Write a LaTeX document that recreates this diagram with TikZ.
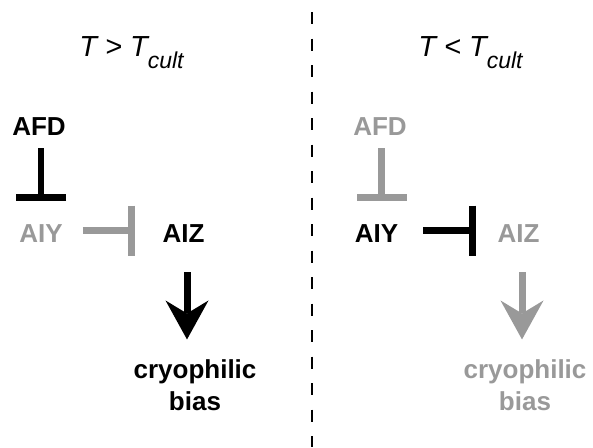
\documentclass[tikz,border=0pt]{standalone}
\usepackage{fontspec}
\setmainfont{Liberation Sans}
\usetikzlibrary{arrows.meta,calc}
\definecolor{dimgr}{RGB}{153,153,153}
\tikzset{
  lbl/.style={font=\fontsize{26}{30}\selectfont\bfseries, inner sep=0pt, anchor=base},
  ttl/.style={font=\fontsize{29}{34}\selectfont\itshape, inner sep=0pt, anchor=base},
  inhib/.style={line width=6.5pt, -{Bar[width=50pt]}},
  activ/.style={line width=7pt, -{Stealth[length=39pt,width=43pt,inset=13pt,line width=0pt]}},
  divider/.style={line width=1.6pt, dash pattern=on 12pt off 14.5pt, dash phase=14.5pt}
}
\newcommand{\subcult}{\raisebox{-12pt}{\fontsize{23}{27}\selectfont cult}}
\begin{document}
\begin{tikzpicture}[x=1pt,y=-1pt]
\useasboundingbox (0,0) rectangle (593,447);
% divider
\coordinate (dtop) at (312,0);
\coordinate (dbot) at (312,447);
\draw[divider] (dtop) -- (dbot);
% titles
\node[ttl] (titleL) at (131.5,56) {T > T\subcult};
\node[ttl] (titleR) at (470.5,56) {T < T\subcult};
% left panel
\node[lbl] (AFDL) at (39,135) {AFD};
\node[lbl,text=dimgr] (AIYL) at (41,242) {AIY};
\node[lbl] (AIZL) at (183.5,242) {AIZ};
\node[lbl] (cryoL) at (195,378) {cryophilic};
\node[lbl] (biasL) at (195,410) {bias};
\draw[inhib,shorten <=13pt,shorten >=23pt] (AIYL.north |- AFDL.south) -- (AIYL.north);
\draw[inhib,dimgr,shorten <=20pt,shorten >=27.5pt] ([yshift=2.5pt]AIYL.east) -- ([yshift=2.5pt]AIYL.east -| AIZL.west);
\draw[activ,shorten <=30pt,shorten >=19.5pt] ([xshift=3.5pt]AIZL.south) -- ([xshift=3.5pt]AIZL.south |- cryoL.north);
% right panel
\node[lbl,text=dimgr] (AFDR) at (380,135) {AFD};
\node[lbl] (AIYR) at (376.5,242) {AIY};
\node[lbl,text=dimgr] (AIZR) at (518.5,242) {AIZ};
\node[lbl,text=dimgr] (cryoR) at (525,378) {cryophilic};
\node[lbl,text=dimgr] (biasR) at (525,410) {bias};
\draw[inhib,dimgr,shorten <=13pt,shorten >=23pt] ([xshift=1.5pt]AFDR.south) -- ([xshift=1.5pt]AFDR.south |- AIYR.north);
\draw[inhib,shorten <=25pt,shorten >=21.5pt] ([yshift=2.5pt]AIYR.east) -- ([yshift=2.5pt]AIYR.east -| AIZR.west);
\draw[activ,dimgr,shorten <=30pt,shorten >=19.5pt] ([xshift=3.5pt]AIZR.south) -- ([xshift=3.5pt]AIZR.south |- cryoR.north);
\end{tikzpicture}
\end{document}
